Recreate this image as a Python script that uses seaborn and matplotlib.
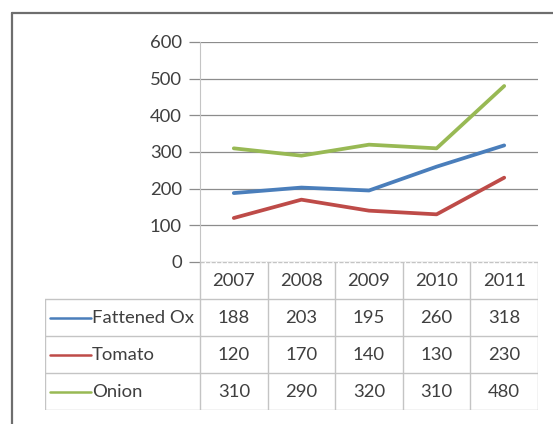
import numpy as np
import pandas as pd
import seaborn as sns
import matplotlib.pyplot as plt
from matplotlib.lines import Line2D

# data
years = ['2007', '2008', '2009', '2010', '2011']
series_names = ['Fattened Ox', 'Tomato', 'Onion']
fattened_ox = [188, 203, 195, 260, 318]
tomato = [120, 170, 140, 130, 230]
onion = [310, 290, 320, 310, 480]
y_ticks = [0, 100, 200, 300, 400, 500, 600]
colors = ['#4A7EBB', '#BE4B48', '#98B954']

sns.set_style('white')
plt.rcParams['font.family'] = ['Lato', 'DejaVu Sans']

W, H = 553, 424
fig = plt.figure(figsize=(W / 100, H / 100), dpi=100)

def px_box(x0, y0, x1, y1):
    return [x0 / W, 1 - y1 / H, (x1 - x0) / W, (y1 - y0) / H]

values = [fattened_ox, tomato, onion]
df = pd.DataFrame({
    'pos': np.tile(np.arange(len(years)), len(series_names)),
    'value': np.concatenate(values),
    'series': np.repeat(series_names, len(years)),
})

grid_col = '#8C8C8C'
light_col = '#C4C4C4'
text_col = '#3F3F3F'
fs = 13.3

ax = fig.add_axes(px_box(200, 42, 538, 262))
sns.lineplot(data=df, x='pos', y='value', hue='series', palette=colors,
             linewidth=2.7, sort=False, legend=False, ax=ax)
ax.set_xlim(-0.5, len(years) - 0.5)
ax.set_ylim(0, 600)
ax.set_yticks(y_ticks)
ax.set_xticks([])
ax.set_xlabel('')
ax.set_ylabel('')
for s in ['top', 'right', 'bottom']:
    ax.spines[s].set_visible(False)
ax.spines['left'].set_color(light_col)
ax.spines['left'].set_linewidth(0.8)
ax.yaxis.grid(True, color=grid_col, linewidth=0.9)
ax.set_axisbelow(True)
ax.tick_params(axis='y', length=8, color=grid_col, width=0.9,
               labelsize=fs, labelcolor=text_col, pad=5, left=True)

# data table below the plot
tab = fig.add_axes(px_box(45, 262, 538, 410))
left = -0.5 - (200 - 45) / (338 / 5)
tab.set_xlim(left, len(years) - 0.5)
tab.set_ylim(4, 0)
tab.axis('off')

tab.plot([-0.5, len(years) - 0.5], [0, 0], color=light_col, lw=1.0, ls=(0, (3, 1)))
for r in range(1, 5):
    tab.plot([left, len(years) - 0.5], [r, r], color=light_col, lw=1.0)
for c in range(len(years) + 1):
    tab.plot([c - 0.5, c - 0.5], [0, 4], color=light_col, lw=1.0)
tab.plot([left, left], [1, 4], color=light_col, lw=1.0)

for c, yr in enumerate(years):
    tab.text(c, 0.52, yr, ha='center', va='center', fontsize=fs, color=text_col)
for r, (name, vals, col) in enumerate(zip(series_names, values, colors), start=1):
    tab.plot([left + 0.07, left + 0.68], [r + 0.5, r + 0.5], color=col, lw=1.8)
    tab.text(left + 0.69, r + 0.52, name, ha='left', va='center', fontsize=fs, color=text_col)
    for c, v in enumerate(vals):
        tab.text(c, r + 0.52, str(v), ha='center', va='center', fontsize=fs, color=text_col)

# chart area border (partially visible)
fig.add_artist(Line2D([12 / W, 1], [1 - 13 / H, 1 - 13 / H], color='#6E6E6E', lw=1.6))
fig.add_artist(Line2D([12 / W, 12 / W], [0, 1 - 13 / H], color='#6E6E6E', lw=1.6))

fig.savefig('out.png', dpi=100)
